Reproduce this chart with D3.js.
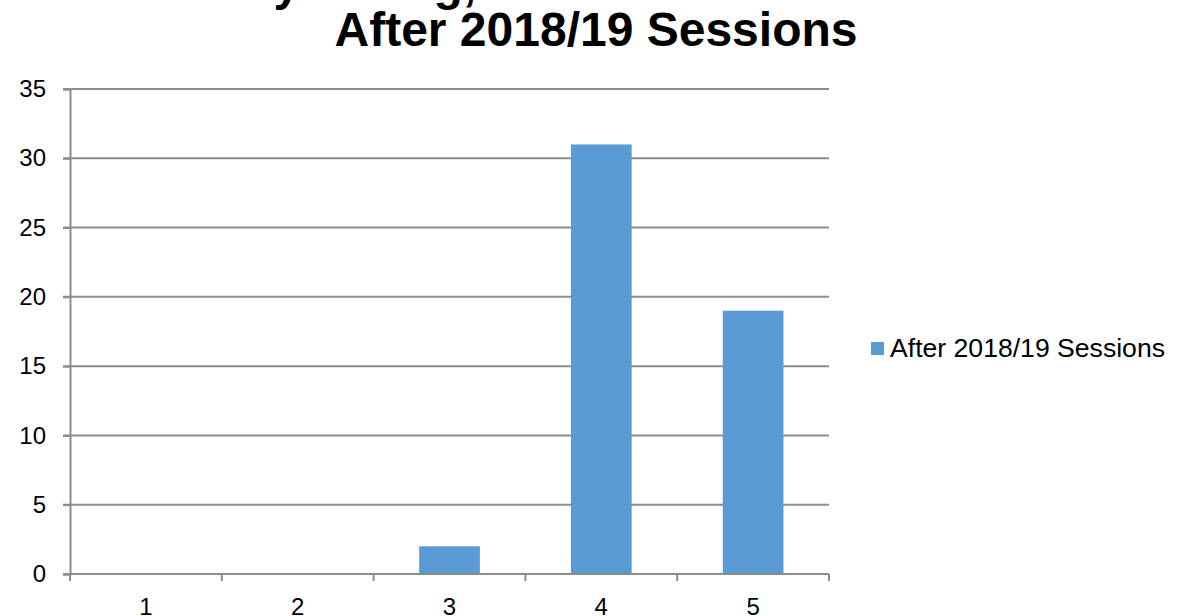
<!DOCTYPE html>
<html>
<head>
<meta charset="utf-8">
<script src="https://cdnjs.cloudflare.com/ajax/libs/d3/7.8.5/d3.min.js"></script>
<style>
  body { margin: 0; background: #fff; }
  svg { display: block; font-family: "Liberation Sans", Arial, sans-serif; }
</style>
</head>
<body>
<div id="chart"></div>
<script>
//Data
var categories = ["1", "2", "3", "4", "5"];
var seriesName = "After 2018/19 Sessions";
var seriesValues = [0, 0, 2, 31, 19];
var yTicks = [0, 5, 10, 15, 20, 25, 30, 35];

//Width and height
var w = 1178;
var h = 616;
var margin = {top: 89, right: 349, bottom: 42, left: 70};

var gridColor = "#8c8c8c";
var barColor = "#5b9bd5";

var svg = d3.select("#chart")
  .append("svg")
  .attr("width", w)
  .attr("height", h);

//Scales
var xScale = d3.scaleBand()
  .domain(categories)
  .range([margin.left, w - margin.right])
  .paddingInner(0.6)
  .paddingOuter(0.3);

var yScale = d3.scaleLinear()
  .domain([0, 35])
  .range([h - margin.bottom, margin.top]);

//Cut-off line of the slide title above the chart
svg.append("text")
  .attr("x", 140)
  .attr("y", 0)
  .attr("font-size", 48)
  .attr("font-weight", "bold")
  .attr("fill", "#000")
  .text("Survey Rating, Before and");

//Chart title
svg.append("text")
  .attr("x", 596)
  .attr("y", 46)
  .attr("text-anchor", "middle")
  .attr("font-size", 48)
  .attr("font-weight", "bold")
  .attr("fill", "#000")
  .text(seriesName);

//Horizontal gridlines
svg.append("g")
  .attr("class", "grid")
  .selectAll("line")
  .data(yTicks)
  .enter()
  .append("line")
  .attr("x1", margin.left - 7)
  .attr("x2", w - margin.right)
  .attr("y1", function(d) { return yScale(d); })
  .attr("y2", function(d) { return yScale(d); })
  .attr("stroke", gridColor)
  .attr("stroke-width", 2);

//Y axis
var yAxis = d3.axisLeft(yScale)
  .tickValues(yTicks)
  .tickSize(7)
  .tickPadding(17);

var gy = svg.append("g")
  .attr("class", "axis y")
  .attr("transform", "translate(" + margin.left + ",0)")
  .call(yAxis);

gy.select(".domain").attr("stroke", gridColor).attr("stroke-width", 2);
gy.selectAll(".tick line").attr("stroke", gridColor).attr("stroke-width", 2);
gy.selectAll(".tick text")
  .attr("font-size", 24)
  .attr("font-family", "Liberation Sans, Arial, sans-serif")
  .attr("fill", "#000");

//Bars
svg.append("g")
  .selectAll("rect")
  .data(seriesValues)
  .enter()
  .append("rect")
  .attr("x", function(d, i) { return xScale(categories[i]); })
  .attr("y", function(d) { return yScale(d); })
  .attr("width", xScale.bandwidth())
  .attr("height", function(d) { return yScale(0) - yScale(d); })
  .attr("fill", barColor);

//X axis: ticks sit on band boundaries, labels at band centres
var step = xScale.step();
var x0 = xScale.range()[0];
var xBounds = d3.range(categories.length + 1).map(function(i) { return x0 + i * step; });

var gx = svg.append("g")
  .attr("class", "axis x")
  .attr("transform", "translate(0," + yScale(0) + ")");

gx.append("line")
  .attr("x1", x0)
  .attr("x2", w - margin.right)
  .attr("stroke", gridColor)
  .attr("stroke-width", 2);

gx.selectAll("line.tick")
  .data(xBounds)
  .enter()
  .append("line")
  .attr("class", "tick")
  .attr("x1", function(d) { return d; })
  .attr("x2", function(d) { return d; })
  .attr("y1", 0)
  .attr("y2", 7)
  .attr("stroke", gridColor)
  .attr("stroke-width", 2);

gx.selectAll("text")
  .data(categories)
  .enter()
  .append("text")
  .attr("x", function(d) { return xScale(d) + xScale.bandwidth() / 2; })
  .attr("y", 41)
  .attr("text-anchor", "middle")
  .attr("font-size", 24)
  .attr("fill", "#000")
  .text(function(d) { return d; });

//Legend
var legend = svg.append("g")
  .attr("transform", "translate(871,342)");

legend.append("rect")
  .attr("width", 13)
  .attr("height", 13)
  .attr("fill", barColor);

legend.append("text")
  .attr("x", 19)
  .attr("y", 15)
  .attr("font-size", 26.6)
  .attr("fill", "#000")
  .text(seriesName);
</script>
</body>
</html>
